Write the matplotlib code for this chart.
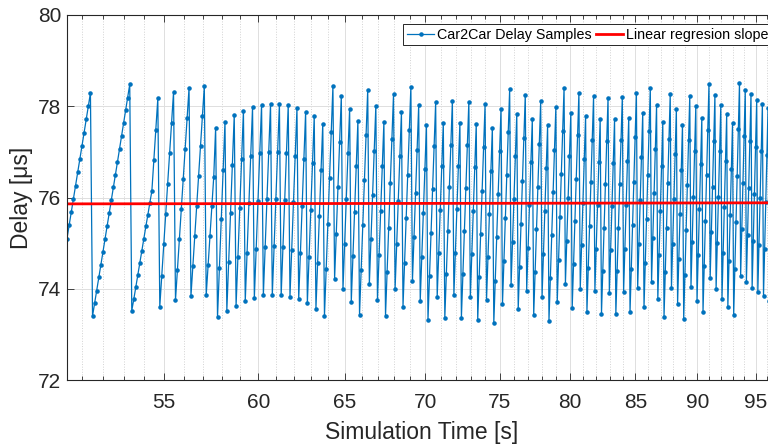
import numpy as np
import matplotlib
matplotlib.use("Agg")
import matplotlib.pyplot as plt
from matplotlib.ticker import NullFormatter

plt.rcParams['font.family'] = ['Liberation Sans', 'DejaVu Sans']

# sampling of the delay trace (one sample every 0.1 s)
t_start = 50.28
dt = 0.1

# delay samples [us]
delay_50_58 = [
    75.10, 75.39, 75.68, 75.97, 76.26, 76.55, 76.84, 77.13, 77.42, 77.71, 78.00, 78.29,
    73.40, 73.68, 73.96, 74.25, 74.53, 74.81, 75.09, 75.37, 75.66, 75.94, 76.22, 76.50,
    76.78, 77.07, 77.35, 77.63, 77.91, 78.19, 78.48,
    73.52, 73.77, 74.04, 74.30, 74.57, 74.83, 75.10, 75.37, 75.62, 75.89, 76.14, 76.82, 77.49, 78.17,
    73.61, 74.29, 74.97, 75.63, 76.30, 76.97, 77.64, 78.31,
    73.75, 74.42, 75.08, 75.75, 76.41, 77.07, 77.74, 78.40,
    73.84, 74.50, 75.16, 75.81, 76.47, 77.12, 77.78, 78.44,
    73.86, 74.51, 75.16, 75.81, 76.46, 77.53,
    73.37, 74.45, 75.52, 76.60, 77.66,
]
delay_58_67 = [
    73.52, 74.58, 75.65, 76.72, 77.81,
    73.63, 74.70, 75.77, 76.84, 77.90,
    73.73, 74.79, 75.87, 76.91, 77.98,
    73.80, 74.87, 75.93, 76.97, 78.03,
    73.86, 74.92, 75.97, 77.00, 78.05,
    73.86, 74.94, 75.97, 77.00, 78.05,
    73.86, 74.92, 75.94, 76.98, 78.02,
    73.83, 74.86, 75.90, 76.92, 77.96,
    73.77, 74.79, 75.81, 76.85, 77.88,
    73.68, 74.70, 75.73, 76.75, 77.78,
    73.56, 74.57, 75.59, 76.60, 77.62,
    73.40, 74.43, 75.42, 76.43, 77.44, 78.44,
    74.21, 75.21, 76.22, 77.22, 78.22,
    73.99, 74.98, 75.97, 76.97, 77.95,
    73.72, 74.72, 75.69, 76.69, 77.67,
    73.43, 74.41, 75.40, 76.38, 77.36, 78.36,
    74.10, 75.08, 76.05, 77.03, 78.01,
    73.75, 74.74, 75.70, 76.68, 77.66,
]
delay_67_80 = [
    73.40, 74.37, 75.34, 76.31, 77.28, 78.26,
    73.99, 74.97, 75.93, 76.90, 77.87,
    73.61, 74.57, 75.54, 76.50, 77.47, 78.43,
    74.17, 75.13, 76.09, 77.04, 78.02,
    73.74, 74.70, 75.65, 76.62, 77.58,
    73.32, 74.27, 75.22, 76.19, 77.13, 78.09,
    73.82, 74.78, 75.73, 76.69, 77.64,
    73.36, 74.32, 75.27, 76.22, 77.16, 78.12,
    73.86, 74.79, 75.74, 76.68, 77.64,
    73.36, 74.32, 75.26, 76.20, 77.15, 78.10,
    73.81, 74.76, 75.71, 76.66, 77.61,
    73.32, 74.26, 75.21, 76.15, 77.10, 78.04,
    73.75, 74.70, 75.64, 76.59, 77.53,
    73.24, 74.18, 75.13, 76.07, 77.01, 77.95,
    73.66, 74.61, 75.55, 76.49, 77.43, 78.37,
    74.08, 75.02, 75.96, 76.90, 77.84,
    73.55, 74.48, 75.43, 76.37, 77.30, 78.25,
    73.96, 74.90, 75.84, 76.78, 77.71,
    73.42, 74.37, 75.30, 76.24, 77.17, 78.11,
    73.83, 74.77, 75.70, 76.64, 77.58,
    73.30, 74.24, 75.17, 76.11, 77.04, 77.99,
    73.70, 74.64, 75.58, 76.52, 77.45, 78.41,
    74.11, 75.05, 75.99, 76.92, 77.86,
]
delay_80_88 = [
    73.57, 74.54, 75.48, 76.41, 77.36, 78.30,
    74.00, 74.96, 75.89, 76.84, 77.79,
    73.50, 74.45, 75.38, 76.33, 77.27, 78.22,
    73.95, 74.88, 75.84, 76.78, 77.72,
    73.45, 74.39, 75.34, 76.29, 77.24, 78.19,
    73.91, 74.86, 75.81, 76.76, 77.71,
    73.44, 74.39, 75.34, 76.30, 77.25, 78.21,
    73.93, 74.88, 75.84, 76.80, 77.75,
    73.48, 74.43, 75.40, 76.35, 77.32, 78.28,
    74.01, 74.98, 75.94, 76.89, 77.86,
    73.59, 74.56, 75.52, 76.49, 77.45, 78.41,
    74.15, 75.12, 76.09, 77.06, 78.02,
    73.77, 74.74, 75.70, 76.68, 77.65,
    73.39, 74.37, 75.34, 76.31, 77.28, 78.26,
]
delay_88_97 = [
    74.01, 74.99, 75.97, 76.95, 77.93,
    73.67, 74.65, 75.63, 76.61, 77.59,
    73.33, 74.31, 75.29, 76.27, 77.25, 78.23,
    74.04, 75.03, 76.02, 77.01, 78.00,
    73.74, 74.74, 75.74, 76.74, 77.74,
    73.49, 74.49, 75.49, 76.49, 77.49, 78.49,
    74.24, 75.24, 76.24, 77.24, 78.24,
    73.99, 75.00, 76.01, 77.02, 78.03,
    73.78, 74.79, 75.80, 76.81, 77.82,
    73.59, 74.60, 75.61, 76.62, 77.63,
    73.42, 74.44, 75.46, 76.48, 77.50, 78.50,
    74.28, 75.30, 76.32, 77.34, 78.36,
    74.15, 75.18, 76.21, 77.24, 78.27,
    74.02, 75.05, 76.08, 77.11, 78.14,
    73.93, 74.96, 75.99, 77.02, 78.05,
    73.84, 74.87, 75.90, 76.93, 77.96,
    73.74, 74.77, 75.80, 76.83, 77.86,
    73.64, 74.67, 75.70,
]

x_ticks = [55, 60, 65, 70, 75, 80, 85, 90, 95]
y_ticks = [72, 74, 76, 78, 80]

delay = np.array(delay_50_58 + delay_58_67 + delay_67_80 + delay_80_88 + delay_88_97)
t = t_start + dt * np.arange(len(delay))

# linear regression over the whole trace
slope, icept = np.polyfit(t, delay, 1)
fit = slope * t + icept

fig = plt.figure(figsize=(7.68, 4.47), dpi=100)
ax = fig.add_axes([67/768, 67/447, 710/768, 365/447])

ax.plot(t, delay, color="#0072BD", linewidth=0.9, marker=".", markersize=4.5,
        label="Car2Car Delay Samples")
ax.plot(t, fit, color="#FF0000", linewidth=2.0, label="Linear regresion slope")

ax.set_xscale("log")
ax.set_xlim(t[0], t[-1])
ax.set_ylim(72, 80)
ax.set_xticks(x_ticks)
ax.set_xticklabels([str(v) for v in x_ticks])
ax.set_xticks(np.arange(51, 97), minor=True)
ax.xaxis.set_minor_formatter(NullFormatter())
ax.set_yticks(y_ticks)

# matlab look: box on, inward ticks, solid major + dotted minor grid
ax.set_axisbelow(True)
ax.grid(True, which="major", color="#dedede", linewidth=0.7)
ax.grid(True, which="minor", axis="x", color="#d2d2d2", linestyle=":", linewidth=0.7)
ax.tick_params(which="both", direction="in", top=True, right=True, colors="#262626",
               labelsize=15)
ax.tick_params(which="major", length=5, width=0.6)
ax.tick_params(which="minor", length=3, width=0.6)
ax.tick_params(axis="x", pad=9)
ax.tick_params(axis="y", pad=4)
for s in ax.spines.values():
    s.set_color("#262626"); s.set_linewidth(0.8)

ax.set_xlabel("Simulation Time [s]", fontsize=16.5, color="#262626", labelpad=7)
ax.set_ylabel("Delay [μs]", fontsize=16.5, color="#262626", labelpad=4)

leg = ax.legend(loc="upper right", bbox_to_anchor=(0.993, 0.9753), borderaxespad=0,
                ncol=2, fontsize=10.3, frameon=True, fancybox=False, framealpha=1,
                edgecolor="#262626", borderpad=0.25, handlelength=1.9,
                handletextpad=0.2, columnspacing=0.3)
leg.get_frame().set_linewidth(0.7)

fig.savefig("out.png", dpi=100)
